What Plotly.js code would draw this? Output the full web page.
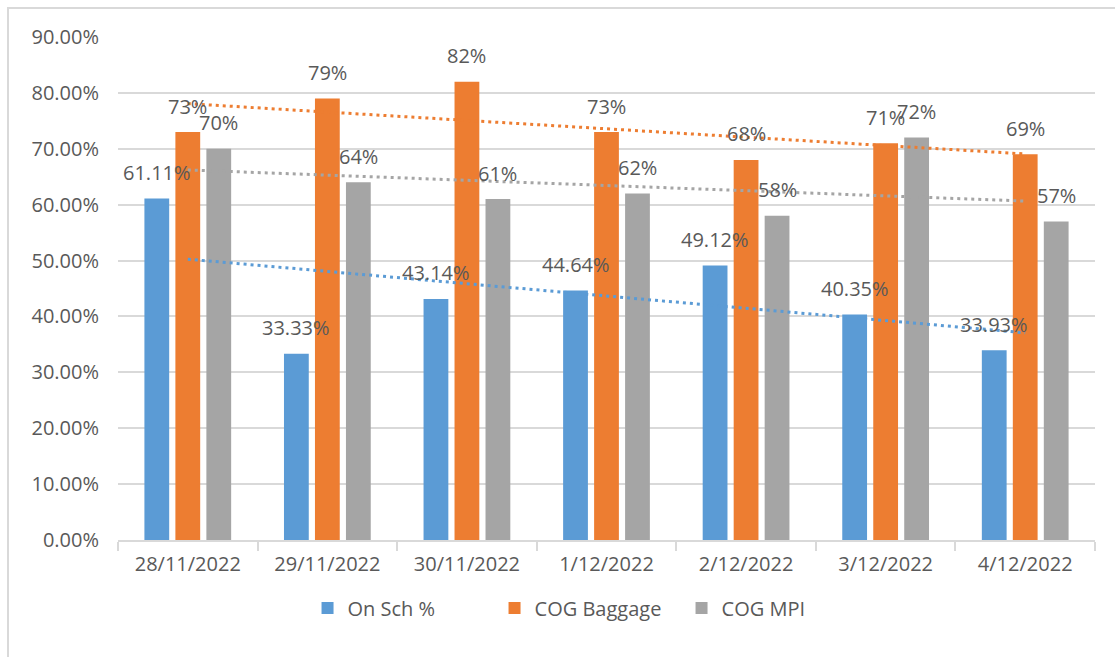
<!DOCTYPE html>
<html>
<head>
<meta charset="utf-8">
<script src="https://cdn.plot.ly/plotly-3.0.1.min.js"></script>
<style>
  html, body { margin: 0; padding: 0; background: #ffffff; overflow: hidden; }
  #chart { width: 1115px; height: 657px; }
  #frame { position: absolute; left: 7px; top: 7px; width: 2000px; height: 2000px;
           border-left: 2px solid #d9d9d9; border-top: 2px solid #d9d9d9; pointer-events: none; }
</style>
</head>
<body>
<div id="chart"></div>
<div id="frame"></div>
<script>
// ---- data ----
const categories = ["28/11/2022", "29/11/2022", "30/11/2022", "1/12/2022", "2/12/2022", "3/12/2022", "4/12/2022"];
const onSch      = [0.6111, 0.3333, 0.4314, 0.4464, 0.4912, 0.4035, 0.3393];
const cogBaggage = [0.73, 0.79, 0.82, 0.73, 0.68, 0.71, 0.69];
const cogMpi     = [0.70, 0.64, 0.61, 0.62, 0.58, 0.72, 0.57];
const seriesNames = ["On Sch %", "COG Baggage", "COG MPI"];
const yTickVals = [0, 0.1, 0.2, 0.3, 0.4, 0.5, 0.6, 0.7, 0.8, 0.9];

// ---- style ----
const colors = ["#5B9BD5", "#ED7D31", "#A5A5A5"];
const textColor = "#595959";
const gridColor = "#d9d9d9";
const font = "'Open Sans', Lato, sans-serif";

const series = [onSch, cogBaggage, cogMpi];
const labelFormats = [v => (v * 100).toFixed(2) + "%", v => Math.round(v * 100) + "%", v => Math.round(v * 100) + "%"];

// linear trendline (least squares over category index 1..n), like Excel's linear trendline
function trend(vals) {
  const n = vals.length;
  let sx = 0, sy = 0, sxx = 0, sxy = 0;
  vals.forEach((v, i) => { const x = i + 1; sx += x; sy += v; sxx += x * x; sxy += x * v; });
  const slope = (n * sxy - sx * sy) / (n * sxx - sx * sx);
  const icpt = (sy - slope * sx) / n;
  return [slope * 1 + icpt, slope * n + icpt];
}

const traces = [];
series.forEach((vals, i) => {
  traces.push({
    type: "bar", name: seriesNames[i], x: categories, y: vals,
    marker: { color: colors[i] }, hoverinfo: "skip"
  });
});
series.forEach((vals, i) => {
  traces.push({
    type: "scatter", mode: "lines", showlegend: false, hoverinfo: "skip",
    x: [categories[0], categories[categories.length - 1]], y: trend(vals),
    line: { color: colors[i], width: 3, dash: "3px,4px" }
  });
});

const offsets = [-31, 0, 31];
const annotations = [];
series.forEach((vals, i) => {
  vals.forEach((v, j) => {
    annotations.push({
      x: categories[j], y: v, xref: "x", yref: "y", text: labelFormats[i](v),
      showarrow: false, xshift: offsets[i], yshift: 26, yanchor: "middle",
      font: { family: font, size: 20, color: textColor }
    });
  });
});

const layout = {
  width: 1115, height: 657,
  margin: { l: 118, r: 20, t: 37, b: 117 },
  paper_bgcolor: "#ffffff", plot_bgcolor: "#ffffff",
  font: { family: font, size: 20, color: textColor },
  barmode: "group", bargap: 0.334, bargroupgap: 0.2,
  showlegend: true,
  legend: {
    orientation: "h", x: 0.194, xanchor: "left", y: -0.135, yanchor: "middle",
    font: { family: font, size: 20, color: textColor },
    entrywidth: 142, entrywidthmode: "pixels", traceorder: "normal"
  },
  xaxis: {
    type: "category", showgrid: false, showline: true, linecolor: gridColor, linewidth: 2,
    ticks: "outside", tickson: "boundaries", ticklen: 9, tickcolor: gridColor, tickwidth: 2,
    tickfont: { family: font, size: 20, color: textColor }, ticklabelstandoff: 5,
    zeroline: false, fixedrange: true
  },
  yaxis: {
    range: [0, 0.9], tickvals: yTickVals, tickformat: ".2%",
    showgrid: true, gridcolor: gridColor, gridwidth: 2, zeroline: false, showline: false,
    ticks: "", tickfont: { family: font, size: 20, color: textColor }, ticklabelstandoff: 18,
    fixedrange: true
  },
  annotations: annotations
};

Plotly.newPlot("chart", traces, layout, { displayModeBar: false, staticPlot: true });
</script>
</body>
</html>
